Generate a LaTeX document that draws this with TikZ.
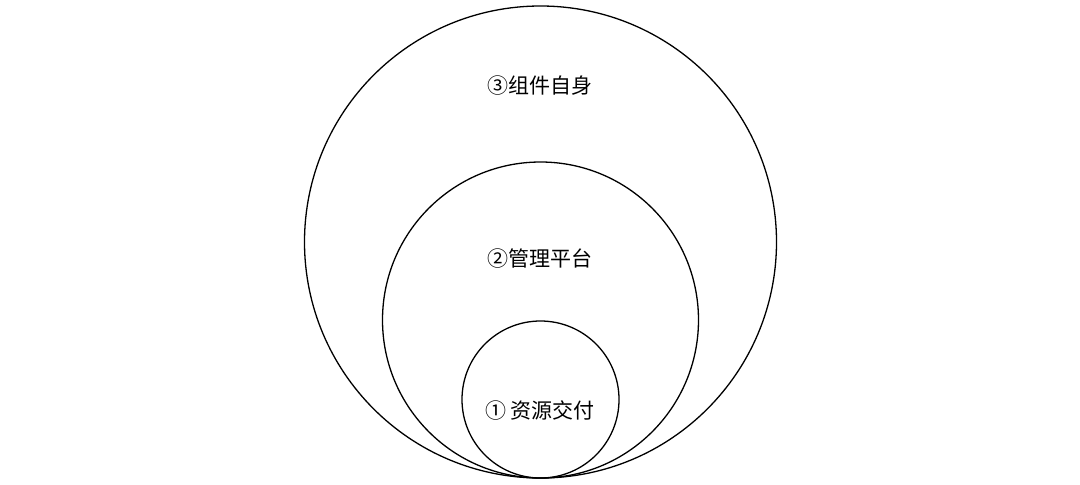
\documentclass[tikz,border=0pt]{standalone}
\usepackage{fontspec}
\newfontfamily\cjk{Noto Sans CJK SC}
\begin{document}
\begin{tikzpicture}[x=1pt,y=-1pt,
  ring/.style={draw=black,line width=1.3pt},
  lbl/.style={font=\cjk\fontsize{21}{24}\selectfont,inner sep=0pt}]
\useasboundingbox (0,0) rectangle (1080,485);
\fill[white] (0,0) rectangle (1080,485);
\draw[ring] (540.5,242) circle (236);
\draw[ring] (540.5,320) circle (158);
\draw[ring] (540.5,399.5) circle (78.5);
\node[lbl] (t3) at (540,86) {③组件自身};
\node[lbl] (t2) at (540,259) {②管理平台};
\node[lbl] (t1) at (540,410) {① 资源交付};
\end{tikzpicture}
\end{document}
